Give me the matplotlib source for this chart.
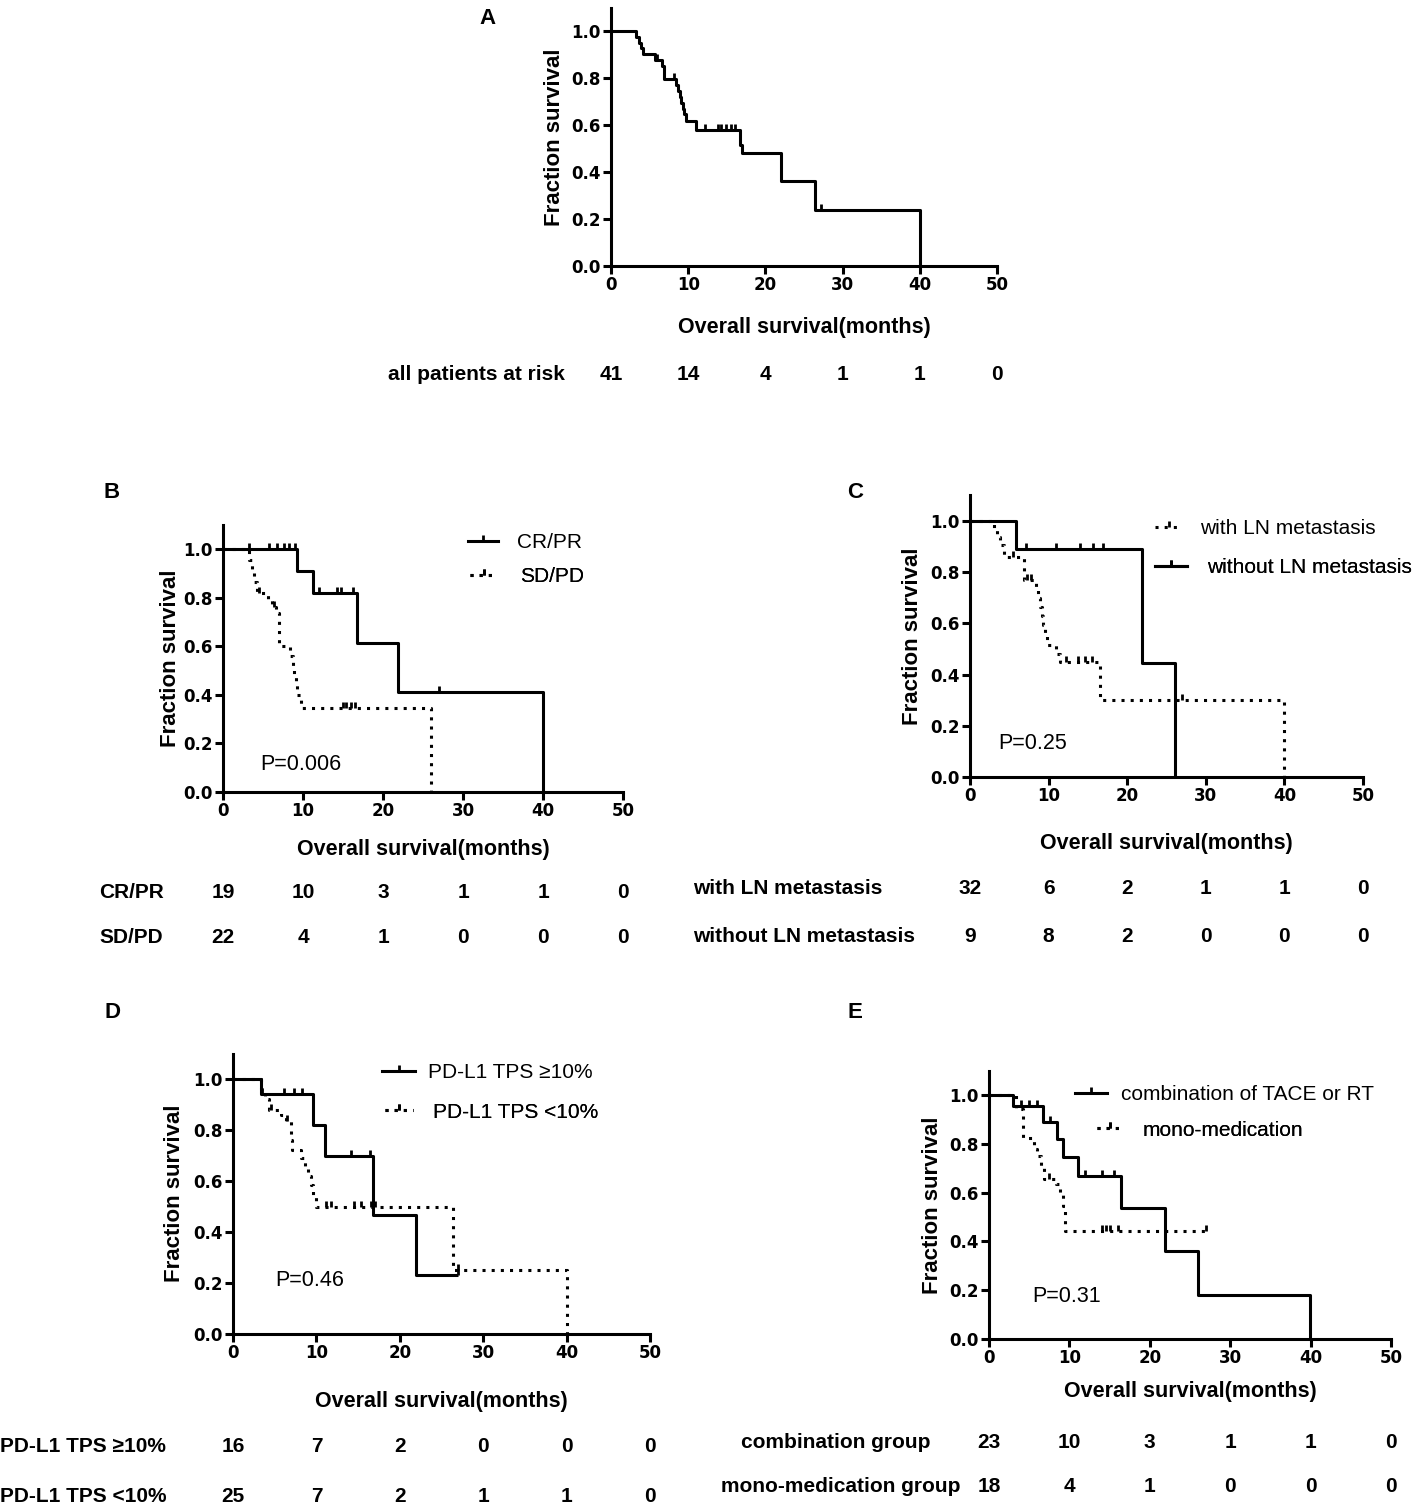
import numpy as np
import matplotlib
matplotlib.use("Agg")
import matplotlib.pyplot as plt
from matplotlib.lines import Line2D
from matplotlib import font_manager
from matplotlib.transforms import blended_transform_factory

plt.rcParams['font.family'] = ['Liberation Sans', 'DejaVu Sans']

names = {f.name for f in font_manager.fontManager.ttflist}
NARROW = 'Liberation Sans Narrow' if 'Liberation Sans Narrow' in names else 'Liberation Sans'
TABLE_SIZE = 17 if NARROW == 'Liberation Sans Narrow' else 15

# ---- data ----
risk_times = [0, 10, 20, 30, 40, 50]

# A: all patients
a_t = [0, 3.3, 3.6, 3.9, 4.2, 5.7, 6.6, 6.9, 8.4, 8.7, 8.9, 9.1, 9.3, 9.5, 9.7, 11.0, 16.7, 17.0, 22.0, 26.4, 40.0]
a_s = [1.0, 0.976, 0.951, 0.927, 0.902, 0.878, 0.853, 0.795, 0.77, 0.745, 0.72, 0.695, 0.67, 0.645, 0.615, 0.578, 0.515, 0.48, 0.36, 0.24, 0.0]
a_cens = [6.0, 8.1, 12.2, 13.9, 14.3, 14.9, 15.5, 16.1, 27.2]
a_risk = [41, 14, 4, 1, 1, 0]

# B: response
b1_t = [0, 9.2, 11.2, 16.7, 21.9, 40.0]
b1_s = [1.0, 0.91, 0.82, 0.615, 0.41, 0.0]
b1_cens = [3.3, 5.8, 6.8, 7.6, 8.3, 9.0, 12.0, 14.3, 14.8, 16.3, 27.0]
b2_t = [0, 3.3, 3.6, 3.9, 4.3, 5.6, 6.1, 6.6, 7.0, 8.4, 8.7, 8.9, 9.1, 9.3, 9.7, 26.0]
b2_s = [1.0, 0.955, 0.909, 0.864, 0.818, 0.79, 0.762, 0.735, 0.60, 0.56, 0.52, 0.48, 0.44, 0.40, 0.345, 0.0]
b2_cens = [4.5, 6.4, 15.0, 15.4, 16.0, 16.5]
b_risk1 = [19, 10, 3, 1, 1, 0]
b_risk2 = [22, 4, 1, 0, 0, 0]

# C: LN metastasis
c1_t = [0, 3.0, 3.4, 3.8, 4.3, 6.9, 8.4, 8.7, 8.9, 9.1, 9.3, 9.5, 9.8, 11.0, 11.4, 16.6, 40.0]
c1_s = [1.0, 0.969, 0.938, 0.906, 0.86, 0.77, 0.735, 0.70, 0.665, 0.63, 0.595, 0.555, 0.515, 0.48, 0.45, 0.30, 0.0]
c1_cens = [5.5, 7.3, 7.8, 12.2, 13.8, 14.6, 15.5, 27.0]
c2_t = [0, 5.9, 21.9, 26.1]
c2_s = [1.0, 0.889, 0.444, 0.0]
c2_cens = [7.1, 11.0, 14.0, 15.7, 16.9]
c_risk1 = [32, 6, 2, 1, 1, 0]
c_risk2 = [9, 8, 2, 0, 0, 0]

# D: PD-L1 TPS
d1_t = [0, 3.3, 9.6, 11.05, 16.8, 22.0, 27.0]
d1_s = [1.0, 0.94, 0.82, 0.70, 0.467, 0.233, 0.233]
d1_cens = [3.5, 6.1, 7.3, 8.3, 14.2, 16.4, 27.0]
d2_t = [0, 3.4, 3.8, 4.3, 5.8, 6.3, 6.9, 7.1, 8.2, 8.6, 9.0, 9.3, 9.6, 9.9, 26.4, 40.0]
d2_s = [1.0, 0.96, 0.92, 0.88, 0.86, 0.835, 0.76, 0.72, 0.69, 0.655, 0.62, 0.585, 0.545, 0.50, 0.25, 0.0]
d2_cens = [4.5, 6.5, 11.2, 11.8, 14.5, 15.3, 16.5, 17.0, 27.0]
d_risk1 = [16, 7, 2, 0, 0, 0]
d_risk2 = [25, 7, 2, 1, 1, 0]

# E: treatment
e1_t = [0, 3.0, 6.75, 8.4, 9.2, 11.1, 16.4, 21.9, 26.0, 39.9]
e1_s = [1.0, 0.955, 0.89, 0.82, 0.745, 0.668, 0.535, 0.36, 0.18, 0.0]
e1_cens = [4.0, 5.0, 6.0, 7.6, 12.0, 14.0, 15.5]
e2_t = [0, 3.3, 4.2, 5.6, 6.0, 6.5, 6.8, 8.3, 8.8, 9.2, 9.5, 27.0]
e2_s = [1.0, 0.944, 0.822, 0.78, 0.75, 0.70, 0.655, 0.635, 0.59, 0.545, 0.443, 0.443]
e2_cens = [7.5, 14.0, 14.5, 15.0, 16.0, 27.0]
e_risk1 = [23, 10, 3, 1, 1, 0]
e_risk2 = [18, 4, 1, 0, 0, 0]

# ---- layout (pixels in the 1413x1507 canvas) ----
W, H = 1413, 1507
fig = plt.figure(figsize=(W / 100, H / 100), dpi=100)

LW = 2.2
DOT = (0, (1, 2))
TICKFONT = dict(family='DejaVu Sans', fontweight='bold', fontsize=12)


def make_axes(x0, x50, y0, y1):
    top = y0 - 1.1 * (y0 - y1)
    ax = fig.add_axes([x0 / W, 1 - y0 / H, (x50 - x0) / W, (y0 - top) / H])
    ax.set_xlim(0, 50)
    ax.set_ylim(0, 1.1)
    for s in ['top', 'right']:
        ax.spines[s].set_visible(False)
    for s in ['left', 'bottom']:
        ax.spines[s].set_linewidth(LW)
    ax.set_xticks(risk_times)
    ax.set_xticklabels([str(t) for t in risk_times], **TICKFONT)
    yt = [0, 0.2, 0.4, 0.6, 0.8, 1.0]
    ax.set_yticks(yt)
    ax.set_yticklabels(['%.1f' % v for v in yt], **TICKFONT)
    ax.tick_params(direction='out', length=6, width=LW, pad=1.5)
    ax.geom = (x0, x50, y0, top)
    return ax


def surv_at(t, s, tc):
    idx = np.searchsorted(t, tc, side='right') - 1
    return np.array(s)[idx]


def km(ax, t, s, cens, ls):
    kw = dict(dashes=DOT[1]) if ls == 'dot' else {}
    ax.step(t, s, where='post', color='black', lw=LW, clip_on=False,
            solid_capstyle='butt', dash_capstyle='butt', **kw)
    ax.plot(cens, surv_at(t, s, cens), ls='none', marker=2, ms=4, mew=2,
            color='black', clip_on=False)


def handle(ls):
    kw = dict(dashes=DOT[1]) if ls == 'dot' else {}
    return Line2D([0], [0], color='black', lw=LW, marker=2, ms=4, mew=2,
                  dash_capstyle='butt', **kw)


def legend_row(ax, ls, label, hx0, hx1, tx, cy):
    x0, x50, y0, top = ax.geom
    em = 15 * 100 / 72
    leg = ax.legend([handle(ls)], [label], loc='center left',
                    bbox_to_anchor=((hx0 - x0) / (x50 - x0), (y0 - cy) / (y0 - top)),
                    frameon=False, fontsize=15, borderpad=0, borderaxespad=0,
                    handlelength=(hx1 - hx0) / em, handletextpad=(tx - hx1) / em)
    ax.add_artist(leg)


def labels(ax, ylab_x, xlab_y):
    x0, x50, y0, top = ax.geom
    fig.text(ylab_x / W, 1 - (y0 + top) / 2 / H, 'Fraction survival', rotation=90,
             ha='center', va='center', fontsize=16, fontweight='bold')
    fig.text((x0 + x50) / 2 / W, 1 - xlab_y / H, 'Overall survival(months)',
             ha='center', va='center', fontsize=15.5, fontweight='bold')


def pvalue(ax, text, px, py):
    x0, x50, y0, top = ax.geom
    ax.text((px - x0) / (x50 - x0), (y0 - py) / (y0 - top), text,
            transform=ax.transAxes, ha='left', va='center', fontsize=15.5)


def risk_row(ax, label, counts, lx, ha, ypx):
    tf = dict(fontsize=TABLE_SIZE, fontweight='bold', family=[NARROW, 'DejaVu Sans'])
    fig.text(lx / W, 1 - ypx / H, label, ha=ha, va='center', **tf)
    tr = blended_transform_factory(ax.transData, fig.transFigure)
    for t, n in zip(risk_times, counts):
        ax.text(t, 1 - ypx / H, str(n), transform=tr, ha='center', va='center', **tf)


def letter(ch, px, py):
    fig.text(px / W, 1 - py / H, ch, ha='center', va='center', fontsize=16, fontweight='bold')


# A
axA = make_axes(611, 997, 266, 31)
km(axA, a_t, a_s, a_cens, 'solid')
labels(axA, 555, 327)
risk_row(axA, 'all patients at risk', a_risk, 476, 'center', 375)
letter('A', 487, 18)

# B
axB = make_axes(223, 623, 792, 549)
km(axB, b1_t, b1_s, b1_cens, 'solid')
km(axB, b2_t, b2_s, b2_cens, 'dot')
legend_row(axB, 'solid', 'CR/PR', 468, 498, 517, 543)
legend_row(axB, 'dot', 'SD/PD', 470, 497, 520, 577)
pvalue(axB, 'P=0.006', 260, 765)
labels(axB, 170, 850)
risk_row(axB, 'CR/PR', b_risk1, 131, 'center', 892)
risk_row(axB, 'SD/PD', b_risk2, 131, 'center', 938)
letter('B', 112, 492)

# C
axC = make_axes(970, 1363, 777, 521)
km(axC, c1_t, c1_s, c1_cens, 'dot')
km(axC, c2_t, c2_s, c2_cens, 'solid')
legend_row(axC, 'dot', 'with LN metastasis', 1155, 1182, 1200, 529)
legend_row(axC, 'solid', 'without LN metastasis', 1155, 1187, 1207, 568)
pvalue(axC, 'P=0.25', 998, 744)
labels(axC, 912, 843)
risk_row(axC, 'with LN metastasis', c_risk1, 693, 'left', 889)
risk_row(axC, 'without LN metastasis', c_risk2, 693, 'left', 937)
letter('C', 855, 492)

# D
axD = make_axes(233, 650, 1334, 1079)
km(axD, d1_t, d1_s, d1_cens, 'solid')
km(axD, d2_t, d2_s, d2_cens, 'dot')
legend_row(axD, 'solid', 'PD-L1 TPS ≥10%', 382, 415, 428, 1073)
legend_row(axD, 'dot', 'PD-L1 TPS <10%', 385, 413, 433, 1112)
pvalue(axD, 'P=0.46', 275, 1281)
labels(axD, 175, 1402)
risk_row(axD, 'PD-L1 TPS ≥10%', d_risk1, 0, 'left', 1447)
risk_row(axD, 'PD-L1 TPS <10%', d_risk2, 0, 'left', 1496)
letter('D', 112, 1012)

# E
axE = make_axes(989, 1391, 1339, 1095)
km(axE, e1_t, e1_s, e1_cens, 'solid')
km(axE, e2_t, e2_s, e2_cens, 'dot')
legend_row(axE, 'solid', 'combination of TACE or RT', 1075, 1107, 1121, 1095)
legend_row(axE, 'dot', 'mono-medication', 1097, 1123, 1143, 1130)
pvalue(axE, 'P=0.31', 1032, 1297)
labels(axE, 932, 1392)
risk_row(axE, 'combination group', e_risk1, 836, 'center', 1443)
risk_row(axE, 'mono-medication group', e_risk2, 841, 'center', 1487)
letter('E', 855, 1012)

fig.savefig('out.png', dpi=100)
